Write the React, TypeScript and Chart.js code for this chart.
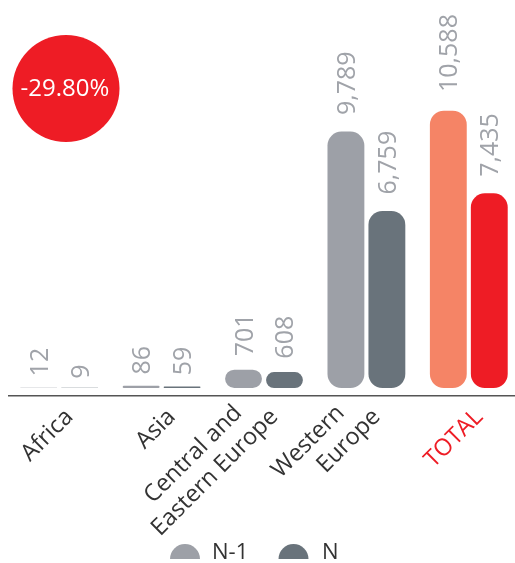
import React, { useEffect, useRef } from 'react';
import { Chart, registerables } from 'chart.js';

Chart.register(...registerables);

const categories: string[][] = [['Africa'], ['Asia'], ['Central and', 'Eastern Europe'], ['Western', 'Europe'], ['TOTAL']];
const prevYear = [12, 86, 701, 9789, 10588];
const currYear = [9, 59, 608, 6759, 7435];
const seriesNames = ['N-1', 'N'];
const changeLabel = '-29.80%';

const GRAY = '#9da0a7';
const DARK = '#69737b';
const SALMON = '#f58466';
const RED = '#ee1c25';
const LABEL_GRAY = '#a0a3a9';
const TEXT = '#333333';
const FONT = '"Open Sans", sans-serif';

const valueLabels = {
  id: 'valueLabels',
  afterDatasetsDraw(chart: any) {
    const ctx = chart.ctx;
    ctx.save();
    ctx.font = `25px ${FONT}`;
    ctx.fillStyle = LABEL_GRAY;
    chart.data.datasets.forEach((ds: any, di: number) => {
      const meta = chart.getDatasetMeta(di);
      meta.data.forEach((bar: any, i: number) => {
        const text = Number(ds.data[i]).toLocaleString('en-US');
        const w = ctx.measureText(text).width;
        const gap = 7 + 0.15 * w;
        ctx.save();
        ctx.translate(bar.x, bar.y - gap);
        ctx.rotate(-Math.PI / 2);
        ctx.textAlign = 'left';
        ctx.textBaseline = 'alphabetic';
        ctx.fillText(text, 0, 9);
        ctx.restore();
      });
    });
    ctx.restore();
  },
};

const categoryLabels = {
  id: 'categoryLabels',
  afterDraw(chart: any) {
    const ctx = chart.ctx;
    const xs = chart.scales.x;
    ctx.save();
    ctx.font = `23.5px ${FONT}`;
    ctx.textAlign = 'right';
    ctx.textBaseline = 'alphabetic';
    categories.forEach((lines, i) => {
      const x0 = xs.getPixelForValue(i) + 15;
      const y0 = xs.top + 22;
      const n = lines.length;
      lines.forEach((line, j) => {
        const k = n - 1 - j;
        ctx.save();
        ctx.translate(x0 - 36 * k, y0 - 4 * k);
        ctx.rotate(-Math.PI / 4);
        ctx.fillStyle = i === categories.length - 1 ? RED : TEXT;
        ctx.fillText(line, 0, 0);
        ctx.restore();
      });
    });
    ctx.restore();
  },
};

const decorations = {
  id: 'decorations',
  afterDraw(chart: any) {
    const ctx = chart.ctx;
    ctx.save();
    // badge
    ctx.fillStyle = RED;
    ctx.beginPath();
    ctx.arc(58, 80.5, 53.5, 0, Math.PI * 2);
    ctx.fill();
    ctx.fillStyle = '#ffffff';
    ctx.font = `24px ${FONT}`;
    ctx.textAlign = 'center';
    ctx.textBaseline = 'middle';
    ctx.fillText(changeLabel, 57, 81);
    // legend
    const items = [
      { cx: 177, tx: 204, color: GRAY, label: seriesNames[0] },
      { cx: 285.5, tx: 314, color: DARK, label: seriesNames[1] },
    ];
    const h = chart.height;
    ctx.font = `22px ${FONT}`;
    ctx.textAlign = 'left';
    ctx.textBaseline = 'alphabetic';
    items.forEach((it) => {
      ctx.fillStyle = it.color;
      ctx.beginPath();
      ctx.arc(it.cx, h, 15, 0, Math.PI * 2);
      ctx.fill();
      ctx.fillStyle = TEXT;
      ctx.fillText(it.label, it.tx, h);
    });
    ctx.restore();
  },
};

export default function App() {
  const ref = useRef<HTMLCanvasElement>(null);
  useEffect(() => {
    if (!ref.current) return;
    const chart = new Chart(ref.current, {
      type: 'bar',
      data: {
        labels: categories.map((c) => c.join(' ')),
        datasets: [
          {
            label: seriesNames[0],
            data: prevYear,
            backgroundColor: prevYear.map((_, i) => (i === prevYear.length - 1 ? SALMON : GRAY)),
            borderRadius: 14,
            borderSkipped: false,
          },
          {
            label: seriesNames[1],
            data: currYear,
            backgroundColor: currYear.map((_, i) => (i === currYear.length - 1 ? RED : DARK)),
            borderRadius: 14,
            borderSkipped: false,
          },
        ],
      },
      options: {
        responsive: false,
        animation: false,
        layout: { padding: 0, autoPadding: false } as any,
        plugins: {
          legend: { display: false },
          tooltip: { enabled: false },
        },
        scales: {
          y: {
            display: false,
            min: -305,
            max: 14509,
          },
          x: {
            grid: { display: false },
            border: { display: true, color: '#555555', width: 1.5 },
            ticks: { display: false },
            afterFit: (scale: any) => {
              scale.height = 163;
            },
          },
        },
      },
      plugins: [valueLabels, categoryLabels, decorations],
    });
    return () => chart.destroy();
  }, []);
  return (
    <div style={{ position: 'fixed', left: 0, top: 0, width: 515, height: 563, overflow: 'hidden', background: '#fff' }}>
      <canvas ref={ref} width={512} height={551} style={{ position: 'absolute', left: 8, top: 8, display: 'block' }} />
    </div>
  );
}
